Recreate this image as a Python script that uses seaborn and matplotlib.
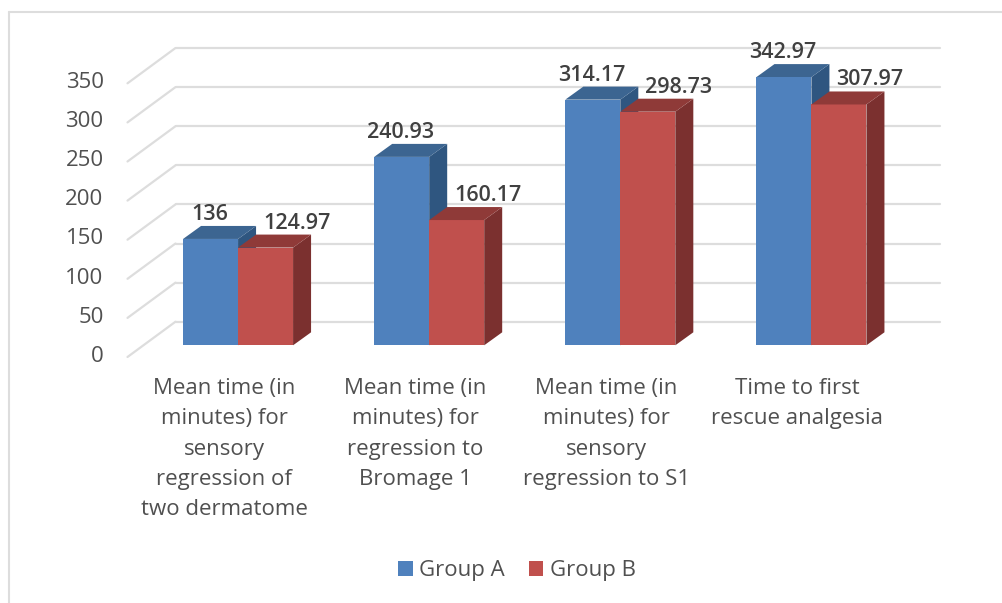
import matplotlib
matplotlib.use("Agg")
import matplotlib.pyplot as plt
import pandas as pd
import seaborn as sns
from matplotlib.lines import Line2D
from matplotlib.patches import Polygon
from matplotlib.transforms import ScaledTranslation

categories = [
    "Mean time (in\nminutes) for\nsensory\nregression of\ntwo dermatome",
    "Mean time (in\nminutes) for\nregression to\nBromage 1",
    "Mean time (in\nminutes) for\nsensory\nregression to S1",
    "Time to first\nrescue analgesia",
]
group_a = [136, 240.93, 314.17, 342.97]
group_b = [124.97, 160.17, 298.73, 307.97]
value_labels_a = ["136", "240.93", "314.17", "342.97"]
value_labels_b = ["124.97", "160.17", "298.73", "307.97"]
y_ticks = [0, 50, 100, 150, 200, 250, 300, 350]

W, H = 1002, 603
# pixel geometry of the fake 3D box
X0, X1 = 142.5, 907.0
Y0, Y1 = 345.3, 71.6
PX_X = (X1 - X0) / 4
PX_Y = (Y0 - Y1) / 350

BLUE, RED = "#4F81BD", "#C0504D"
SHADES = {BLUE: ("#3C6591", "#2F5680"), RED: ("#8F3A38", "#7B302F")}
TEXT = "#505050"

df = pd.DataFrame({
    "category": categories * 2,
    "value": group_a + group_b,
    "group": ["Group A"] * 4 + ["Group B"] * 4,
})

sns.set_style("white")
plt.rcParams["font.family"] = ["Open Sans", "DejaVu Sans"]

fig = plt.figure(figsize=(W / 100, H / 100), dpi=100)
ax = fig.add_axes([X0 / W, 1 - Y0 / H, (X1 - X0) / W, (Y0 - Y1) / H])
ax.patch.set_alpha(0)

sns.barplot(data=df, x="category", y="value", hue="group",
            palette=[BLUE, RED], width=0.5756, gap=0, saturation=1,
            linewidth=0, ax=ax)
ax.set_xlim(-0.5, 3.5)
ax.set_ylim(0, 350)
sns.despine(ax=ax, left=True, bottom=True)
ax.set_xlabel("")
ax.set_ylabel("")


def to_x(px):
    return px / PX_X


def to_y(px):
    return px / PX_Y


# back wall gridlines and the diagonals on the left wall
back_dx, back_dy = to_x(33), to_y(23.6)
wall_dx, wall_dy = to_x(48), to_y(35.3)
for v in y_ticks:
    ax.add_line(Line2D([-0.5 + back_dx, 3.5 + back_dx], [v + back_dy] * 2,
                       color="#DDDDDD", lw=1.6, clip_on=False, zorder=1))
    ax.add_line(Line2D([-0.5 + back_dx, -0.5 + back_dx - wall_dx],
                       [v + back_dy, v + back_dy - wall_dy],
                       color="#DDDDDD", lw=1.6, clip_on=False, zorder=1))

# depth faces built from the bars seaborn drew
depth_x, depth_y = to_x(18), to_y(13)
bars = [p for c in ax.containers for p in c]
for i, bar in enumerate(bars):
    is_b = i >= 4
    z = 4 if is_b else 3
    bar.set_zorder(4)
    x, w, h = bar.get_x(), bar.get_width(), bar.get_height()
    top_c, side_c = SHADES[RED if is_b else BLUE]
    top = [(x, h), (x + w, h), (x + w + depth_x, h + depth_y), (x + depth_x, h + depth_y)]
    side = [(x + w, 0), (x + w + depth_x, depth_y), (x + w + depth_x, h + depth_y), (x + w, h)]
    ax.add_patch(Polygon(side, closed=True, fc=side_c, ec="none", clip_on=False, zorder=z))
    ax.add_patch(Polygon(top, closed=True, fc=top_c, ec="none", clip_on=False, zorder=z))

    label = (value_labels_b if is_b else value_labels_a)[i % 4]
    off = 31 if is_b else -1
    ax.annotate(label, (x + w / 2, h), xytext=(off * 0.72, 24.5 * 0.72),
                textcoords="offset points", ha="center", va="center",
                fontsize=15.5, fontweight="semibold", color="#404040", zorder=6,
                annotation_clip=False)

ax.set_yticks(y_ticks)
ax.tick_params(axis="y", length=0, pad=28, labelsize=16, labelcolor=TEXT)
ax.tick_params(axis="x", length=0, pad=23.6, labelsize=16, labelcolor=TEXT)
for lbl in ax.get_yticklabels():
    lbl.set_transform(lbl.get_transform() + ScaledTranslation(0, -8.5 / 100, fig.dpi_scale_trans))
for lbl in ax.get_xticklabels():
    lbl.set_transform(lbl.get_transform() + ScaledTranslation(-14 / 100, 0, fig.dpi_scale_trans))
    lbl.set_linespacing(1.58)

sns.move_legend(ax, "center", bbox_to_anchor=(517 / W, 1 - 570.5 / H),
                bbox_transform=fig.transFigure, ncol=2, frameon=False, title=None,
                fontsize=16, labelcolor=TEXT, handlelength=0.65, handleheight=0.65,
                handletextpad=0.3, columnspacing=1.05)

# chart frame
fig.add_artist(Line2D([8.5 / W, 8.5 / W], [0, 1 - 12 / H], color="#DDDDDD", lw=1.5))
fig.add_artist(Line2D([8.5 / W, 1], [1 - 12 / H] * 2, color="#DDDDDD", lw=1.5))

fig.savefig("out.png", dpi=100)
